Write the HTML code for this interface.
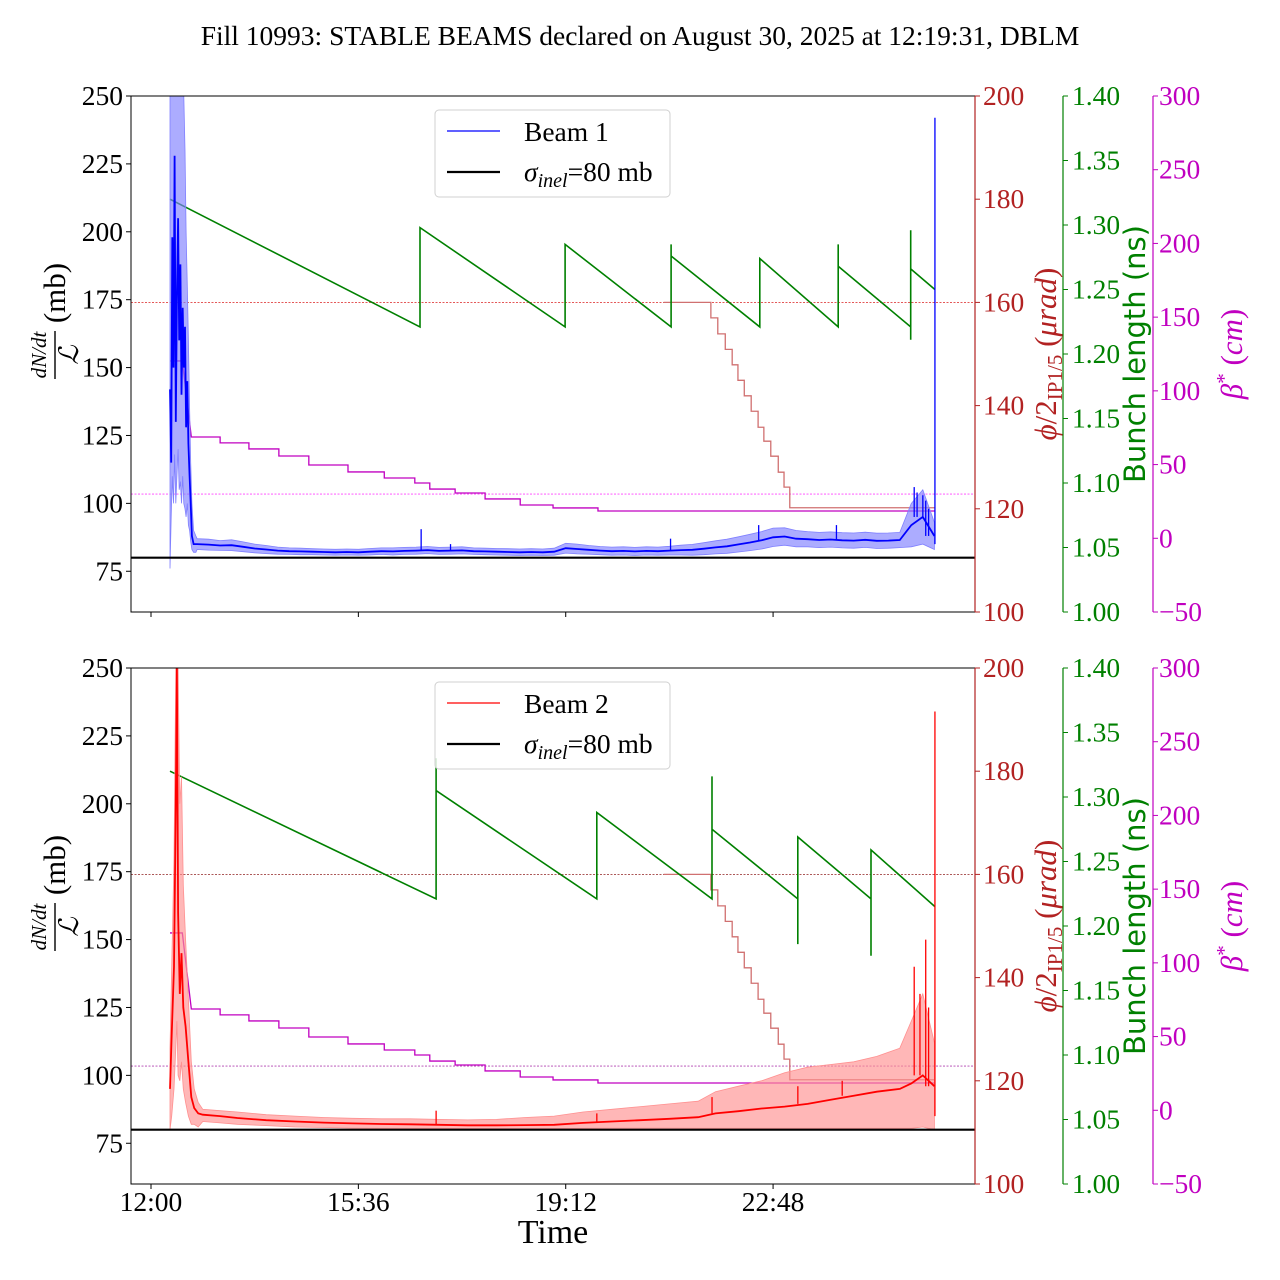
<!DOCTYPE html>
<html><head><meta charset="utf-8">
<style>
html,body{margin:0;padding:0;background:#fff;}
svg{display:block;font-family:"Liberation Serif",serif;}
</style></head>
<body>
<svg id="chart" width="1280" height="1280" viewBox="0 0 1280 1280" xmlns="http://www.w3.org/2000/svg">
<text x="640" y="45" text-anchor="middle" font-size="27.5">Fill 10993: STABLE BEAMS declared on August 30, 2025 at 12:19:31, DBLM</text>
<g id="layer"></g>
</svg>
<script>
// ---- data (time in hours since 12:00) ----
const xTickLabels = ["12:00","15:36","19:12","22:48"];
const xTickHours = [0, 3.6, 7.2, 10.8];
const leftTicks = [75,100,125,150,175,200,225,250];
const redTicks = [100,120,140,160,180,200];
const greenTicks = [1.00,1.05,1.10,1.15,1.20,1.25,1.30,1.35,1.40];
const magTicks = [-50,0,50,100,150,200,250,300];

// beam 1 early (dense) samples
const b1EarlyT = [0.33,0.35,0.37,0.39,0.41,0.43,0.45,0.47,0.49,0.51,0.53,0.55,0.57,0.59,0.61,0.63,0.65,0.67,0.69,0.71,0.74,0.78];
const b1EarlyV = [142,115,198,150,228,130,175,205,160,188,140,172,150,165,128,145,122,110,100,88,85,85];
const b1EarlyHi = [250,250,250,250,250,250,250,250,250,250,250,250,250,230,200,180,160,135,115,100,90,88];
const b1EarlyLo = [76,95,110,100,118,100,110,120,105,108,100,110,100,98,95,100,92,90,86,83,82,82];
// beam 1 later samples
const b1T = [0.8,1.0,1.2,1.4,1.6,1.8,2.0,2.2,2.4,2.6,2.8,3.0,3.2,3.4,3.6,3.8,4.0,4.2,4.4,4.6,4.8,5.0,5.2,5.4,5.6,5.8,6.0,6.2,6.4,6.6,6.8,7.0,7.2,7.4,7.6,7.8,8.0,8.2,8.4,8.6,8.8,9.0,9.2,9.4,9.6,9.8,10.0,10.2,10.4,10.6,10.8,11.0,11.2,11.4,11.6,11.8,12.0,12.2,12.4,12.6,12.8,13.0,13.2,13.4,13.6];
const b1V = [85,84.8,84.5,84.6,84,83.4,83,82.6,82.4,82.3,82.2,82.1,82,82.1,82,82.2,82.4,82.3,82.5,82.6,82.8,82.5,82.6,82.7,82.4,82.3,82.2,82.1,82.0,82.1,82.0,82.2,83.5,83.2,82.9,82.6,82.4,82.5,82.3,82.5,82.4,82.6,82.8,82.9,83.3,83.8,84.2,84.9,85.6,86.4,87.5,87.8,87.0,86.8,86.5,86.7,86.4,86.3,86.6,86.2,86.3,86.5,92,95,88];
const b1W = [2,2,1.8,2,1.8,1.6,1.5,1.3,1.2,1.2,1.1,1.1,1.1,1.1,1.1,1.2,1.2,1.3,1.3,1.3,1.3,1.3,1.3,1.3,1.2,1.2,1.2,1.2,1.2,1.2,1.2,1.3,1.8,1.8,1.6,1.5,1.5,1.5,1.5,1.5,1.5,1.6,1.8,2,2.2,2.4,2.6,2.8,3,3.2,3.4,3.2,3,2.8,2.8,2.8,2.8,2.8,2.8,2.8,2.8,2.8,8,10,5];
const b1SpikeT = [4.69,5.2,9.02,10.55,11.9,13.25,13.3,13.4,13.45,13.5,13.61];
const b1SpikeV = [90.5,85,87,92,92,106,104,103,101,98,242];

// beam 2 early samples
const b2EarlyT = [0.33,0.36,0.40,0.43,0.45,0.47,0.50,0.53,0.56,0.60,0.65,0.70,0.75,0.82];
const b2EarlyV = [95,115,140,200,250,160,130,145,125,118,105,92,88,86];
const b2EarlyHi = [110,140,180,250,250,250,200,210,170,150,128,105,95,90];
const b2EarlyLo = [80,85,95,110,120,100,98,105,95,90,85,82,82,81];
// beam 2 later samples
const b2T = [0.9,1.2,1.5,2.0,2.5,3.0,3.5,4.0,4.5,5.0,5.5,6.0,6.5,7.0,7.5,8.0,8.5,9.0,9.5,9.8,10.2,10.6,11.0,11.4,11.8,12.2,12.6,13.0,13.2,13.4,13.6];
const b2V = [85.5,85,84.3,83.5,83,82.6,82.3,82.1,82,81.8,81.6,81.6,81.7,81.8,82.5,83,83.5,84,84.6,86,86.8,87.8,88.5,89.5,91,92.5,94,95,97,100,96];
const b2Hi = [87.5,87,86.5,85.5,85,84.5,84.2,84,84,83.8,83.6,83.8,84.5,85,86.5,87.5,88.5,89.5,90.5,94,96,98,101,103,104,105,107,110,120,130,112];
const b2Lo = [83,82.5,82,81.5,81,80.8,80.6,80.5,80.5,80.5,80.4,80.4,80.4,80.4,80.5,80.6,80.6,80.6,80.5,80.5,80.5,80.5,80.5,80.5,80.5,80.5,80.5,80.5,80.5,81,80];
const b2SpikeT = [4.95,7.74,9.74,11.23,12.0,13.25,13.35,13.45,13.5,13.61];
const b2SpikeV = [87,86,92,96,98,140,130,150,125,234];

// bunch length (ns)
const blTopT = [0.33,4.67,4.67,7.19,7.19,9.03,9.03,9.03,10.57,10.57,11.93,11.93,11.93,13.19,13.19,13.19,13.19,13.61];
const blTopV = [1.32,1.221,1.298,1.221,1.285,1.221,1.285,1.276,1.221,1.274,1.221,1.285,1.268,1.221,1.211,1.296,1.266,1.25];
const blBotT = [0.33,4.95,4.95,4.95,4.95,7.74,7.74,9.74,9.74,9.74,11.23,11.23,11.23,12.5,12.5,12.5,13.61];
const blBotV = [1.32,1.221,1.33,1.305,1.305,1.221,1.288,1.221,1.316,1.275,1.221,1.186,1.269,1.221,1.177,1.259,1.215];

// crossing angle phi/2 (urad) step changes
const phiT = [8.9,9.72,9.84,9.97,10.09,10.19,10.30,10.42,10.54,10.64,10.76,10.89,10.99,11.09,11.15];
const phiV = [160,157,153.9,150.9,147.9,144.9,141.9,138.9,135.8,133.1,130.2,127.1,124.2,120.2,120.2];
const phiEnd = 13.61;
const phiRef = [160];

// beta* (cm) step changes
const betaT = [0.33,0.70,1.20,1.70,2.22,2.74,3.42,4.05,4.58,4.84,5.28,5.80,6.41,6.98,7.76];
const betaV = [120.3,68.7,64.7,60.6,55.8,49.7,45,40.9,37.5,33.4,30.7,26.7,22.6,20.6,18.5];
const betaEnd = 13.61;
const betaRef = [30];
const sigmaInel = [80];

// ---- geometry ----
const NS = "http://www.w3.org/2000/svg";
const L = 131, R = 975;
const panels = [{top:96,bot:612,beam:1},{top:668,bot:1184,beam:2}];
const xS = t => 151 + t*57.6;
const yL = (v,p) => p.bot - (v-60)/190*(p.bot-p.top);
const yR = (v,p) => p.bot - (v-100)/100*(p.bot-p.top);
const yG = (v,p) => p.bot - (v-1)/0.4*(p.bot-p.top);
const yM = (v,p) => p.bot - (v+50)/350*(p.bot-p.top);
const layer = document.getElementById('layer');
function mk(tag, attrs, parent){
  const e = document.createElementNS(NS, tag);
  for (const k in attrs) e.setAttribute(k, attrs[k]);
  (parent||layer).appendChild(e);
  return e;
}
function linePath(ts, vs, fy, p){
  return ts.map((t,i)=>(i?'L':'M')+xS(t).toFixed(1)+','+fy(vs[i],p).toFixed(1)).join('');
}
function stepPath(ts, vs, end, fy, p, rampFirst){
  let d = 'M'+xS(ts[0])+','+fy(vs[0],p);
  for (let i=1;i<ts.length;i++){
    if (rampFirst && i===1){ d += 'H'+(xS(ts[1])-9)+'L'+xS(ts[1])+','+fy(vs[1],p); }
    else d += 'H'+xS(ts[i])+'V'+fy(vs[i],p);
  }
  d += 'H'+xS(end);
  return d;
}
function bandPath(ts, hi, lo, p){
  let d = ts.map((t,i)=>(i?'L':'M')+xS(t).toFixed(1)+','+yL(hi[i],p).toFixed(1)).join('');
  for (let i=ts.length-1;i>=0;i--) d += 'L'+xS(ts[i]).toFixed(1)+','+yL(lo[i],p).toFixed(1);
  return d+'Z';
}

panels.forEach((p,pi)=>{
  const col = p.beam===1 ? '#0000ff' : '#ff0000';
  const band = p.beam===1 ? '#8080ff' : '#ff9090';
  const defs = mk('defs',{});
  const cp = mk('clipPath',{id:'clip'+pi}, defs);
  mk('rect',{x:L,y:p.top,width:R-L,height:p.bot-p.top}, cp);
  const g = mk('g',{'clip-path':'url(#clip'+pi+')'});
  
  

  const refCol1 = p.beam===1 ? '#e04040' : '#a04040';
  const refCol2 = p.beam===1 ? '#ff40ff' : '#b040b0';
  let e = mk('line',{x1:L,x2:R,y1:yR(phiRef[0],p),y2:yR(phiRef[0],p),stroke:refCol1,'stroke-width':0.9,'stroke-dasharray':'2,1.5'},g);
  
  
  e = mk('line',{x1:L,x2:R,y1:yM(betaRef[0],p),y2:yM(betaRef[0],p),stroke:refCol2,'stroke-width':0.9,'stroke-dasharray':'2,1.5'},g);
  
  

  e = mk('path',{d:stepPath(phiT,phiV,phiEnd,yR,p,false),fill:'none',stroke:'#d07070','stroke-width':1.3},g);
  
  
  e = mk('path',{d:stepPath(betaT,betaV,betaEnd,yM,p,true),fill:'none',stroke:'#c000c0','stroke-width':1.3},g);
  
  
  const bt = p.beam===1 ? blTopT : blBotT, bv = p.beam===1 ? blTopV : blBotV;
  e = mk('path',{d:linePath(bt,bv,yG,p),fill:'none',stroke:'#008000','stroke-width':1.6},g);
  
  

  const eT = p.beam===1?b1EarlyT:b2EarlyT, eV=p.beam===1?b1EarlyV:b2EarlyV, eH=p.beam===1?b1EarlyHi:b2EarlyHi, eL=p.beam===1?b1EarlyLo:b2EarlyLo;
  let lT, lV, lH, lLo;
  if (p.beam===1){ lT=b1T; lV=b1V; lH=b1V.map((v,i)=>v+b1W[i]); lLo=b1V.map((v,i)=>v-b1W[i]); }
  else { lT=b2T; lV=b2V; lH=b2Hi; lLo=b2Lo; }
  const allT = eT.concat(lT), allV = eV.concat(lV), allH = eH.concat(lH), allLo = eL.concat(lLo);
  e = mk('path',{d:bandPath(allT,allH,allLo,p),fill:band,'fill-opacity':0.65,stroke:band,'stroke-width':0.8},g);
  
  
  const sT = p.beam===1?b1SpikeT:b2SpikeT, sV = p.beam===1?b1SpikeV:b2SpikeV;
  sT.forEach((t,i)=>{
    const s = mk('line',{x1:xS(t),x2:xS(t),y1:yL(allV[allT.findIndex(q=>q>=t)]||85,p),y2:yL(sV[i],p),stroke:col,'stroke-width':1.3},g);
    
    
  });
  e = mk('path',{d:linePath(allT,allV,yL,p),fill:'none',stroke:col,'stroke-width':1.8},g);
  
  
  e = mk('line',{x1:L,x2:R,y1:yL(sigmaInel[0],p),y2:yL(sigmaInel[0],p),stroke:'#000','stroke-width':2.2},g);
  
  

  e = mk('rect',{x:L,y:p.top,width:R-L,height:p.bot-p.top,fill:'none',stroke:'#000','stroke-width':1});
  
  

  const FS = 27.5;
  leftTicks.forEach(v=>{
    const y = yL(v,p);
    mk('line',{x1:L-5,x2:L,y1:y,y2:y,stroke:'#000'});
    const t = mk('text',{x:L-8,y:y+9,'text-anchor':'end','font-size':FS});
    t.textContent = v;
    
    
  });
  const redC = '#b22222';
  mk('line',{x1:R,x2:R,y1:p.top,y2:p.bot,stroke:redC,'stroke-width':1.2});
  redTicks.forEach(v=>{
    const y = yR(v,p);
    mk('line',{x1:R,x2:R+5,y1:y,y2:y,stroke:redC});
    const t = mk('text',{x:R+8,y:y+9,'font-size':FS,fill:redC});
    t.textContent = v;
    
    
  });
  const GX = 1063;
  mk('line',{x1:GX,x2:GX,y1:p.top,y2:p.bot,stroke:'#008000','stroke-width':1.2});
  greenTicks.forEach(v=>{
    const y = yG(v,p);
    mk('line',{x1:GX,x2:GX+5,y1:y,y2:y,stroke:'#008000'});
    const t = mk('text',{x:GX+9,y:y+9,'font-size':FS,fill:'#008000'});
    t.textContent = v.toFixed(2);
    
    
  });
  const MX = 1153;
  mk('line',{x1:MX,x2:MX,y1:p.top,y2:p.bot,stroke:'#c000c0','stroke-width':1.2});
  magTicks.forEach(v=>{
    const y = yM(v,p);
    mk('line',{x1:MX,x2:MX+5,y1:y,y2:y,stroke:'#c000c0'});
    const t = mk('text',{x:MX+6,y:y+9,'font-size':FS,fill:'#c000c0'});
    t.textContent = v<0 ? '\u2212'+Math.abs(v) : v;
    
    
  });
  xTickHours.forEach((h,i)=>{
    const x = xS(h);
    mk('line',{x1:x,x2:x,y1:p.bot,y2:p.bot+5,stroke:'#000'});
    if (p.beam===2){
      const t = mk('text',{x:x,y:p.bot+27,'text-anchor':'middle','font-size':FS});
      t.textContent = xTickLabels[i];
      
      
    }
  });

  const cy = (p.top+p.bot)/2;
  const yt = mk('g',{transform:'translate(58,'+(cy+3)+') rotate(-90)'});
  
  
  const num = mk('text',{x:2,y:-12,'text-anchor':'middle','font-size':21,'font-style':'italic'},yt); num.textContent='dN/dt';
  mk('line',{x1:-22,x2:26,y1:-3,y2:-3,stroke:'#000','stroke-width':1.4},yt);
  const den = mk('text',{x:2,y:20,'text-anchor':'middle','font-size':27,'font-style':'italic'},yt); den.textContent='\u2112';
  const mb = mk('text',{x:64,y:7,'text-anchor':'middle','font-size':31},yt); mb.textContent='(mb)';

  const rt = mk('text',{transform:'translate(1056,'+cy+') rotate(-90)','text-anchor':'middle','font-size':31,fill:redC});
  
  
  rt.innerHTML = '<tspan font-style="italic">\u03d5</tspan>/2<tspan font-size="21" dy="6">IP1/5</tspan><tspan dy="-6"> (</tspan><tspan font-style="italic">\u03bcrad</tspan>)';
  const gt = mk('text',{transform:'translate(1145,'+cy+') rotate(-90)','text-anchor':'middle','font-size':29,fill:'#008000','font-family':'DejaVu Sans, sans-serif'});
  
  
  gt.textContent = 'Bunch length (ns)';
  const mt = mk('text',{transform:'translate(1242,'+cy+') rotate(-90)','text-anchor':'middle','font-size':31,fill:'#c000c0'});
  
  
  mt.innerHTML = '<tspan font-style="italic">\u03b2</tspan><tspan font-size="21" dy="-11">*</tspan><tspan dy="11"> (</tspan><tspan font-style="italic">cm</tspan>)';

  const lg = mk('g',{});
  
  
  const ly = p.top + 14;
  mk('rect',{x:435,y:ly,width:235,height:87,rx:4,fill:'#fff','fill-opacity':0.85,stroke:'#d0d0d0'},lg);
  mk('line',{x1:447,x2:500,y1:ly+21,y2:ly+21,stroke:col,'stroke-width':1.3},lg);
  const l1 = mk('text',{x:524,y:ly+31,'font-size':27.5},lg); l1.textContent = 'Beam '+p.beam;
  
  
  mk('line',{x1:447,x2:500,y1:ly+62,y2:ly+62,stroke:'#000','stroke-width':2.2},lg);
  const l2 = mk('text',{x:524,y:ly+71,'font-size':27.5},lg);
  l2.innerHTML = '<tspan font-style="italic">\u03c3</tspan><tspan font-style="italic" font-size="20" dy="6">inel</tspan><tspan dy="-6">=80 mb</tspan>';
  
  
});
const xt = mk('text',{x:553,y:1243,'text-anchor':'middle','font-size':34});
xt.textContent = 'Time';


</script>
</body></html>
